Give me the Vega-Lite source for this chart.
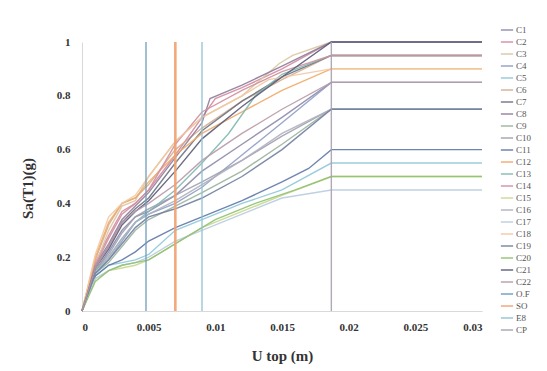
{
"$schema": "https://vega.github.io/schema/vega-lite/v6.json",
"width": 400, "height": 269,
"autosize": {"type": "none"},
"padding": {"left": 82, "top": 42, "right": 65, "bottom": 60},
"background": "white",
"config": {"view": {"stroke": null}, "font": "Liberation Serif"},
"data": {"values": [
{"s":"C1","x":0,"y":0},{"s":"C1","x":0.001,"y":0.15},{"s":"C1","x":0.002,"y":0.22},{"s":"C1","x":0.003,"y":0.30},{"s":"C1","x":0.004,"y":0.35},{"s":"C1","x":0.005,"y":0.37},{"s":"C1","x":0.007,"y":0.43},{"s":"C1","x":0.009,"y":0.52},{"s":"C1","x":0.012,"y":0.62},{"s":"C1","x":0.015,"y":0.72},{"s":"C1","x":0.0187,"y":0.85},{"s":"C1","x":0.03,"y":0.85},
{"s":"C2","x":0,"y":0},{"s":"C2","x":0.001,"y":0.18},{"s":"C2","x":0.002,"y":0.28},{"s":"C2","x":0.003,"y":0.37},{"s":"C2","x":0.004,"y":0.40},{"s":"C2","x":0.005,"y":0.45},{"s":"C2","x":0.007,"y":0.58},{"s":"C2","x":0.009,"y":0.72},{"s":"C2","x":0.01,"y":0.79},{"s":"C2","x":0.012,"y":0.83},{"s":"C2","x":0.015,"y":0.90},{"s":"C2","x":0.0187,"y":1.0},{"s":"C2","x":0.03,"y":1.0},
{"s":"C3","x":0,"y":0},{"s":"C3","x":0.001,"y":0.17},{"s":"C3","x":0.002,"y":0.30},{"s":"C3","x":0.003,"y":0.39},{"s":"C3","x":0.004,"y":0.41},{"s":"C3","x":0.005,"y":0.50},{"s":"C3","x":0.007,"y":0.63},{"s":"C3","x":0.009,"y":0.72},{"s":"C3","x":0.012,"y":0.80},{"s":"C3","x":0.0148,"y":0.92},{"s":"C3","x":0.0158,"y":0.95},{"s":"C3","x":0.0187,"y":1.0},{"s":"C3","x":0.03,"y":1.0},
{"s":"C4","x":0,"y":0},{"s":"C4","x":0.001,"y":0.14},{"s":"C4","x":0.002,"y":0.19},{"s":"C4","x":0.003,"y":0.26},{"s":"C4","x":0.004,"y":0.33},{"s":"C4","x":0.005,"y":0.36},{"s":"C4","x":0.007,"y":0.40},{"s":"C4","x":0.009,"y":0.46},{"s":"C4","x":0.012,"y":0.58},{"s":"C4","x":0.015,"y":0.70},{"s":"C4","x":0.0187,"y":0.85},{"s":"C4","x":0.03,"y":0.85},
{"s":"C5","x":0,"y":0},{"s":"C5","x":0.001,"y":0.13},{"s":"C5","x":0.002,"y":0.17},{"s":"C5","x":0.003,"y":0.18},{"s":"C5","x":0.004,"y":0.19},{"s":"C5","x":0.005,"y":0.21},{"s":"C5","x":0.007,"y":0.30},{"s":"C5","x":0.009,"y":0.34},{"s":"C5","x":0.012,"y":0.40},{"s":"C5","x":0.015,"y":0.45},{"s":"C5","x":0.0187,"y":0.55},{"s":"C5","x":0.03,"y":0.55},
{"s":"C6","x":0,"y":0},{"s":"C6","x":0.001,"y":0.19},{"s":"C6","x":0.002,"y":0.32},{"s":"C6","x":0.003,"y":0.40},{"s":"C6","x":0.004,"y":0.42},{"s":"C6","x":0.005,"y":0.47},{"s":"C6","x":0.007,"y":0.60},{"s":"C6","x":0.009,"y":0.68},{"s":"C6","x":0.012,"y":0.78},{"s":"C6","x":0.015,"y":0.86},{"s":"C6","x":0.0187,"y":0.95},{"s":"C6","x":0.03,"y":0.95},
{"s":"C7","x":0,"y":0},{"s":"C7","x":0.001,"y":0.16},{"s":"C7","x":0.002,"y":0.24},{"s":"C7","x":0.003,"y":0.33},{"s":"C7","x":0.004,"y":0.38},{"s":"C7","x":0.005,"y":0.42},{"s":"C7","x":0.007,"y":0.55},{"s":"C7","x":0.009,"y":0.67},{"s":"C7","x":0.012,"y":0.78},{"s":"C7","x":0.015,"y":0.87},{"s":"C7","x":0.0187,"y":0.95},{"s":"C7","x":0.03,"y":0.95},
{"s":"C8","x":0,"y":0},{"s":"C8","x":0.001,"y":0.17},{"s":"C8","x":0.002,"y":0.25},{"s":"C8","x":0.003,"y":0.34},{"s":"C8","x":0.004,"y":0.39},{"s":"C8","x":0.005,"y":0.44},{"s":"C8","x":0.007,"y":0.57},{"s":"C8","x":0.009,"y":0.70},{"s":"C8","x":0.0096,"y":0.79},{"s":"C8","x":0.012,"y":0.84},{"s":"C8","x":0.015,"y":0.91},{"s":"C8","x":0.0187,"y":1.0},{"s":"C8","x":0.03,"y":1.0},
{"s":"C9","x":0,"y":0},{"s":"C9","x":0.001,"y":0.14},{"s":"C9","x":0.002,"y":0.18},{"s":"C9","x":0.003,"y":0.24},{"s":"C9","x":0.004,"y":0.30},{"s":"C9","x":0.005,"y":0.34},{"s":"C9","x":0.007,"y":0.39},{"s":"C9","x":0.009,"y":0.44},{"s":"C9","x":0.012,"y":0.52},{"s":"C9","x":0.015,"y":0.62},{"s":"C9","x":0.0187,"y":0.75},{"s":"C9","x":0.03,"y":0.75},
{"s":"C10","x":0,"y":0},{"s":"C10","x":0.001,"y":0.15},{"s":"C10","x":0.002,"y":0.21},{"s":"C10","x":0.003,"y":0.29},{"s":"C10","x":0.004,"y":0.35},{"s":"C10","x":0.005,"y":0.38},{"s":"C10","x":0.007,"y":0.43},{"s":"C10","x":0.009,"y":0.48},{"s":"C10","x":0.012,"y":0.56},{"s":"C10","x":0.015,"y":0.65},{"s":"C10","x":0.0187,"y":0.75},{"s":"C10","x":0.03,"y":0.75},
{"s":"C11","x":0,"y":0},{"s":"C11","x":0.001,"y":0.13},{"s":"C11","x":0.002,"y":0.17},{"s":"C11","x":0.003,"y":0.19},{"s":"C11","x":0.004,"y":0.22},{"s":"C11","x":0.005,"y":0.26},{"s":"C11","x":0.007,"y":0.31},{"s":"C11","x":0.009,"y":0.35},{"s":"C11","x":0.012,"y":0.41},{"s":"C11","x":0.015,"y":0.48},{"s":"C11","x":0.017,"y":0.53},{"s":"C11","x":0.0187,"y":0.60},{"s":"C11","x":0.03,"y":0.60},
{"s":"C12","x":0,"y":0},{"s":"C12","x":0.001,"y":0.20},{"s":"C12","x":0.002,"y":0.33},{"s":"C12","x":0.003,"y":0.40},{"s":"C12","x":0.004,"y":0.42},{"s":"C12","x":0.005,"y":0.48},{"s":"C12","x":0.007,"y":0.58},{"s":"C12","x":0.009,"y":0.66},{"s":"C12","x":0.012,"y":0.74},{"s":"C12","x":0.015,"y":0.82},{"s":"C12","x":0.0187,"y":0.90},{"s":"C12","x":0.03,"y":0.90},
{"s":"C13","x":0,"y":0},{"s":"C13","x":0.001,"y":0.15},{"s":"C13","x":0.002,"y":0.20},{"s":"C13","x":0.003,"y":0.27},{"s":"C13","x":0.004,"y":0.33},{"s":"C13","x":0.005,"y":0.37},{"s":"C13","x":0.007,"y":0.45},{"s":"C13","x":0.009,"y":0.55},{"s":"C13","x":0.011,"y":0.66},{"s":"C13","x":0.013,"y":0.80},{"s":"C13","x":0.015,"y":0.88},{"s":"C13","x":0.0187,"y":0.95},{"s":"C13","x":0.03,"y":0.95},
{"s":"C14","x":0,"y":0},{"s":"C14","x":0.001,"y":0.17},{"s":"C14","x":0.002,"y":0.27},{"s":"C14","x":0.003,"y":0.36},{"s":"C14","x":0.004,"y":0.40},{"s":"C14","x":0.005,"y":0.45},{"s":"C14","x":0.007,"y":0.62},{"s":"C14","x":0.009,"y":0.74},{"s":"C14","x":0.012,"y":0.82},{"s":"C14","x":0.015,"y":0.89},{"s":"C14","x":0.0187,"y":0.95},{"s":"C14","x":0.03,"y":0.95},
{"s":"C15","x":0,"y":0},{"s":"C15","x":0.001,"y":0.12},{"s":"C15","x":0.002,"y":0.15},{"s":"C15","x":0.003,"y":0.16},{"s":"C15","x":0.004,"y":0.17},{"s":"C15","x":0.005,"y":0.19},{"s":"C15","x":0.007,"y":0.25},{"s":"C15","x":0.009,"y":0.31},{"s":"C15","x":0.012,"y":0.37},{"s":"C15","x":0.015,"y":0.43},{"s":"C15","x":0.0187,"y":0.50},{"s":"C15","x":0.03,"y":0.50},
{"s":"C16","x":0,"y":0},{"s":"C16","x":0.001,"y":0.14},{"s":"C16","x":0.002,"y":0.20},{"s":"C16","x":0.003,"y":0.27},{"s":"C16","x":0.004,"y":0.33},{"s":"C16","x":0.005,"y":0.36},{"s":"C16","x":0.007,"y":0.41},{"s":"C16","x":0.009,"y":0.47},{"s":"C16","x":0.012,"y":0.56},{"s":"C16","x":0.015,"y":0.66},{"s":"C16","x":0.0187,"y":0.75},{"s":"C16","x":0.03,"y":0.75},
{"s":"C17","x":0,"y":0},{"s":"C17","x":0.001,"y":0.12},{"s":"C17","x":0.002,"y":0.15},{"s":"C17","x":0.003,"y":0.17},{"s":"C17","x":0.004,"y":0.18},{"s":"C17","x":0.005,"y":0.20},{"s":"C17","x":0.007,"y":0.26},{"s":"C17","x":0.009,"y":0.30},{"s":"C17","x":0.012,"y":0.36},{"s":"C17","x":0.015,"y":0.42},{"s":"C17","x":0.0187,"y":0.45},{"s":"C17","x":0.03,"y":0.45},
{"s":"C18","x":0,"y":0},{"s":"C18","x":0.001,"y":0.21},{"s":"C18","x":0.002,"y":0.35},{"s":"C18","x":0.003,"y":0.40},{"s":"C18","x":0.004,"y":0.43},{"s":"C18","x":0.005,"y":0.50},{"s":"C18","x":0.007,"y":0.63},{"s":"C18","x":0.009,"y":0.72},{"s":"C18","x":0.012,"y":0.80},{"s":"C18","x":0.014,"y":0.86},{"s":"C18","x":0.0187,"y":0.90},{"s":"C18","x":0.03,"y":0.90},
{"s":"C19","x":0,"y":0},{"s":"C19","x":0.001,"y":0.14},{"s":"C19","x":0.002,"y":0.19},{"s":"C19","x":0.003,"y":0.25},{"s":"C19","x":0.004,"y":0.31},{"s":"C19","x":0.005,"y":0.35},{"s":"C19","x":0.007,"y":0.38},{"s":"C19","x":0.009,"y":0.42},{"s":"C19","x":0.012,"y":0.50},{"s":"C19","x":0.015,"y":0.60},{"s":"C19","x":0.0187,"y":0.75},{"s":"C19","x":0.03,"y":0.75},
{"s":"C20","x":0,"y":0},{"s":"C20","x":0.001,"y":0.11},{"s":"C20","x":0.002,"y":0.15},{"s":"C20","x":0.003,"y":0.17},{"s":"C20","x":0.004,"y":0.18},{"s":"C20","x":0.005,"y":0.19},{"s":"C20","x":0.006,"y":0.22},{"s":"C20","x":0.008,"y":0.28},{"s":"C20","x":0.01,"y":0.34},{"s":"C20","x":0.013,"y":0.40},{"s":"C20","x":0.016,"y":0.45},{"s":"C20","x":0.0187,"y":0.50},{"s":"C20","x":0.03,"y":0.50},
{"s":"C21","x":0,"y":0},{"s":"C21","x":0.001,"y":0.16},{"s":"C21","x":0.002,"y":0.23},{"s":"C21","x":0.003,"y":0.32},{"s":"C21","x":0.004,"y":0.37},{"s":"C21","x":0.005,"y":0.41},{"s":"C21","x":0.007,"y":0.52},{"s":"C21","x":0.009,"y":0.64},{"s":"C21","x":0.012,"y":0.76},{"s":"C21","x":0.015,"y":0.87},{"s":"C21","x":0.0187,"y":1.0},{"s":"C21","x":0.03,"y":1.0},
{"s":"C22","x":0,"y":0},{"s":"C22","x":0.001,"y":0.16},{"s":"C22","x":0.002,"y":0.24},{"s":"C22","x":0.003,"y":0.33},{"s":"C22","x":0.004,"y":0.37},{"s":"C22","x":0.005,"y":0.40},{"s":"C22","x":0.007,"y":0.47},{"s":"C22","x":0.009,"y":0.56},{"s":"C22","x":0.012,"y":0.66},{"s":"C22","x":0.015,"y":0.75},{"s":"C22","x":0.0187,"y":0.85},{"s":"C22","x":0.03,"y":0.85},
{"s":"O.F","x":0.0048,"y":0},{"s":"O.F","x":0.0048,"y":1.0},
{"s":"SO","x":0.007,"y":0},{"s":"SO","x":0.007,"y":1.0},
{"s":"E8","x":0.009,"y":0},{"s":"E8","x":0.009,"y":1.0},
{"s":"CP","x":0.0187,"y":0},{"s":"CP","x":0.0187,"y":1.0}
]},
"mark": {"type": "line", "opacity": 0.9},
"encoding": {
"x": {"field": "x", "type": "quantitative", "scale": {"domain": [0, 0.03], "nice": false},
 "axis": {"values": [0, 0.005, 0.01, 0.015, 0.02, 0.025, 0.03], "format": "~g", "grid": false, "ticks": false,
  "domainColor": "#d9d9d9", "labelFont": "Liberation Serif", "labelFontSize": 11, "labelFontWeight": "bold", "labelColor": "#333333", "labelPadding": 10,
  "title": "U top (m)", "titleFont": "Liberation Serif", "titleFontSize": 15, "titleFontWeight": "bold", "titleColor": "#333333", "titlePadding": 16}},
"y": {"field": "y", "type": "quantitative", "scale": {"domain": [0, 1], "nice": false},
 "axis": {"values": [0, 0.2, 0.4, 0.6, 0.8, 1], "format": "~g", "grid": false, "ticks": false,
  "domainColor": "#d9d9d9", "labelFont": "Liberation Serif", "labelFontSize": 11, "labelFontWeight": "bold", "labelColor": "#333333", "labelPadding": 12,
  "title": "Sa(T1)(g)", "titleFont": "Liberation Serif", "titleFontSize": 15, "titleFontWeight": "bold", "titleColor": "#333333",
  "titleX": -55, "titleY": 146, "titleAngle": -90, "titleAlign": "center", "titleBaseline": "middle"}},
"color": {"field": "s", "type": "nominal",
 "scale": {"domain": ["C1","C2","C3","C4","C5","C6","C7","C8","C9","C10","C11","C12","C13","C14","C15","C16","C17","C18","C19","C20","C21","C22","O.F","SO","E8","CP"],
  "range": ["#8c8aa8","#d48a9e","#d9c7a1","#8f9dc4","#8fc8d8","#d5ad90","#6c7280","#8f7c9a","#9bb39b","#a0a0b0","#5f78a8","#f0aa68","#7fb8b0","#d08fa0","#c8d890","#b0b0c0","#b8cce0","#f2c8a0","#7080a0","#90c070","#5a5a78","#b89aa8","#6a9ab8","#f0a070","#90c0d0","#a8a0b0"]},
 "legend": {"title": null, "orient": "none", "legendX": 418, "legendY": -19, "symbolType": "stroke", "symbolSize": 150, "symbolStrokeWidth": 1.5,
  "labelFont": "Liberation Serif", "labelFontSize": 9, "labelColor": "#555555", "rowPadding": 0, "labelOffset": 2}},
"strokeWidth": {"condition": {"test": "datum.s === 'SO'", "value": 2.6}, "value": 1.4},
"order": [{"field": "x"}, {"field": "y"}]
}
}
